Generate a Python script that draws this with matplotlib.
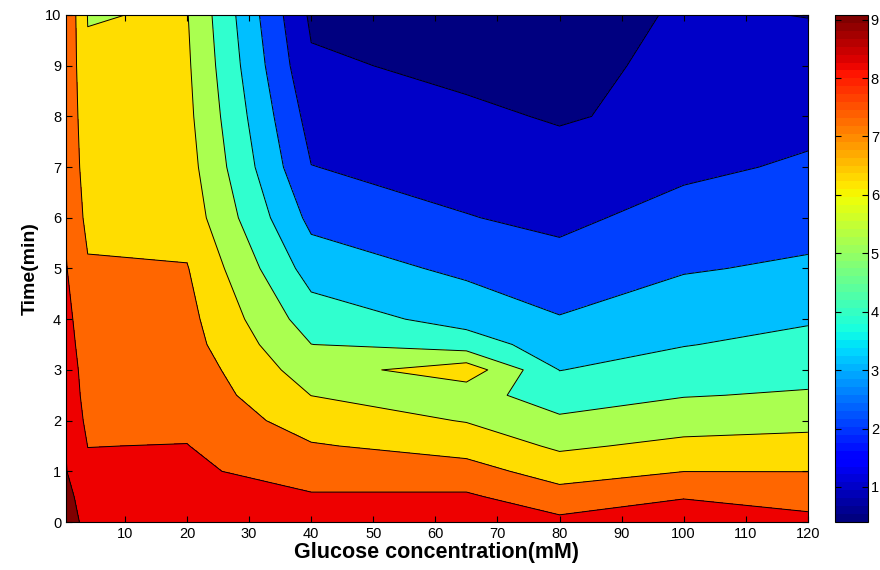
import numpy as np
import matplotlib
matplotlib.use("Agg")
import matplotlib.pyplot as plt
from matplotlib.colors import Normalize
from matplotlib.cm import ScalarMappable

plt.rcParams["font.family"] = ["Liberation Sans", "DejaVu Sans"]

glucose = [0.5, 4, 20, 40, 65, 80, 100, 120]
time = [0, 0.5, 1, 1.5, 2, 2.5, 3, 3.5, 4, 5, 6, 7, 8, 9, 10]

# value at each glucose concentration, from t=0 up to t=10
g0_5 = [9.08, 9.06, 9.04, 8.98, 8.95, 8.85, 8.72, 8.50, 8.32, 8.05, 7.90, 7.85, 7.85, 7.85, 7.85]
g4 = [8.95, 8.90, 8.15, 7.99, 7.75, 7.55, 7.45, 7.35, 7.30, 7.10, 6.75, 6.50, 6.30, 6.10, 5.97]
g20 = [8.70, 8.40, 8.16, 8.02, 7.81, 7.67, 7.57, 7.38, 7.29, 7.05, 6.60, 6.40, 6.25, 6.15, 6.05]
g40 = [8.60, 8.09, 7.59, 7.08, 6.54, 5.99, 5.50, 5.01, 4.51, 3.56, 2.73, 2.02, 1.61, 1.15, 0.82]
g65 = [8.50, 8.14, 7.37, 6.63, 5.95, 5.35, 6.60, 4.47, 3.67, 2.79, 2.04, 1.60, 1.17, 0.775, 0.40]
g80 = [8.24, 7.39, 6.58, 5.84, 5.15, 4.55, 3.98, 3.52, 3.06, 2.35, 1.78, 1.34, 0.92, 0.75, 0.60]
g100 = [8.60, 7.94, 6.99, 6.24, 5.57, 4.95, 4.45, 3.96, 3.61, 2.92, 2.36, 1.80, 1.23, 1.21, 1.10]
g120 = [8.26, 7.62, 6.99, 6.34, 5.71, 5.10, 4.67, 4.29, 3.90, 3.15, 2.61, 2.13, 1.72, 1.30, 0.98]

levels = [1, 2, 3, 4, 5, 6, 7, 8, 9]
band_colors = ["#000080", "#0000c8", "#0040ff", "#00bfff", "#30ffcf",
               "#aaff50", "#ffdd00", "#ff6600", "#ee0000", "#800000"]

Z = np.column_stack([g0_5, g4, g20, g40, g65, g80, g100, g120])
X, Y = np.meshgrid(glucose, time)
zmin, zmax = Z.min(), Z.max()

fig = plt.figure(figsize=(8.8, 5.7), dpi=100)
ax = fig.add_axes([0.075, 0.0842, 0.843, 0.8895])

fill_levels = [zmin - 1] + levels + [zmax + 1]
ax.contourf(X, Y, Z, levels=fill_levels, colors=band_colors)
ax.contour(X, Y, Z, levels=levels, colors="k", linewidths=0.7)

ax.set_xlim(0.5, 120)
ax.set_ylim(0, 10)
ax.set_xticks(range(10, 121, 10))
ax.set_yticks(range(0, 11))
ax.tick_params(direction="in", top=True, right=True, length=4, labelsize=10.5)
ax.set_xlabel("Glucose concentration(mM)", fontsize=15.5, fontweight="bold", labelpad=1)
ax.set_ylabel("Time(min)", fontsize=14, fontweight="bold", labelpad=4)

cax = fig.add_axes([0.9489, 0.0842, 0.0375, 0.8895])
sm = ScalarMappable(norm=Normalize(zmin, zmax), cmap=plt.get_cmap("jet", 64))
cb = fig.colorbar(sm, cax=cax, ticks=range(1, 10))
cb.outline.set_linewidth(0.8)
cax.tick_params(direction="in", left=True, right=True, length=4, labelsize=10.5, pad=2)

fig.savefig("out.png", dpi=100)
